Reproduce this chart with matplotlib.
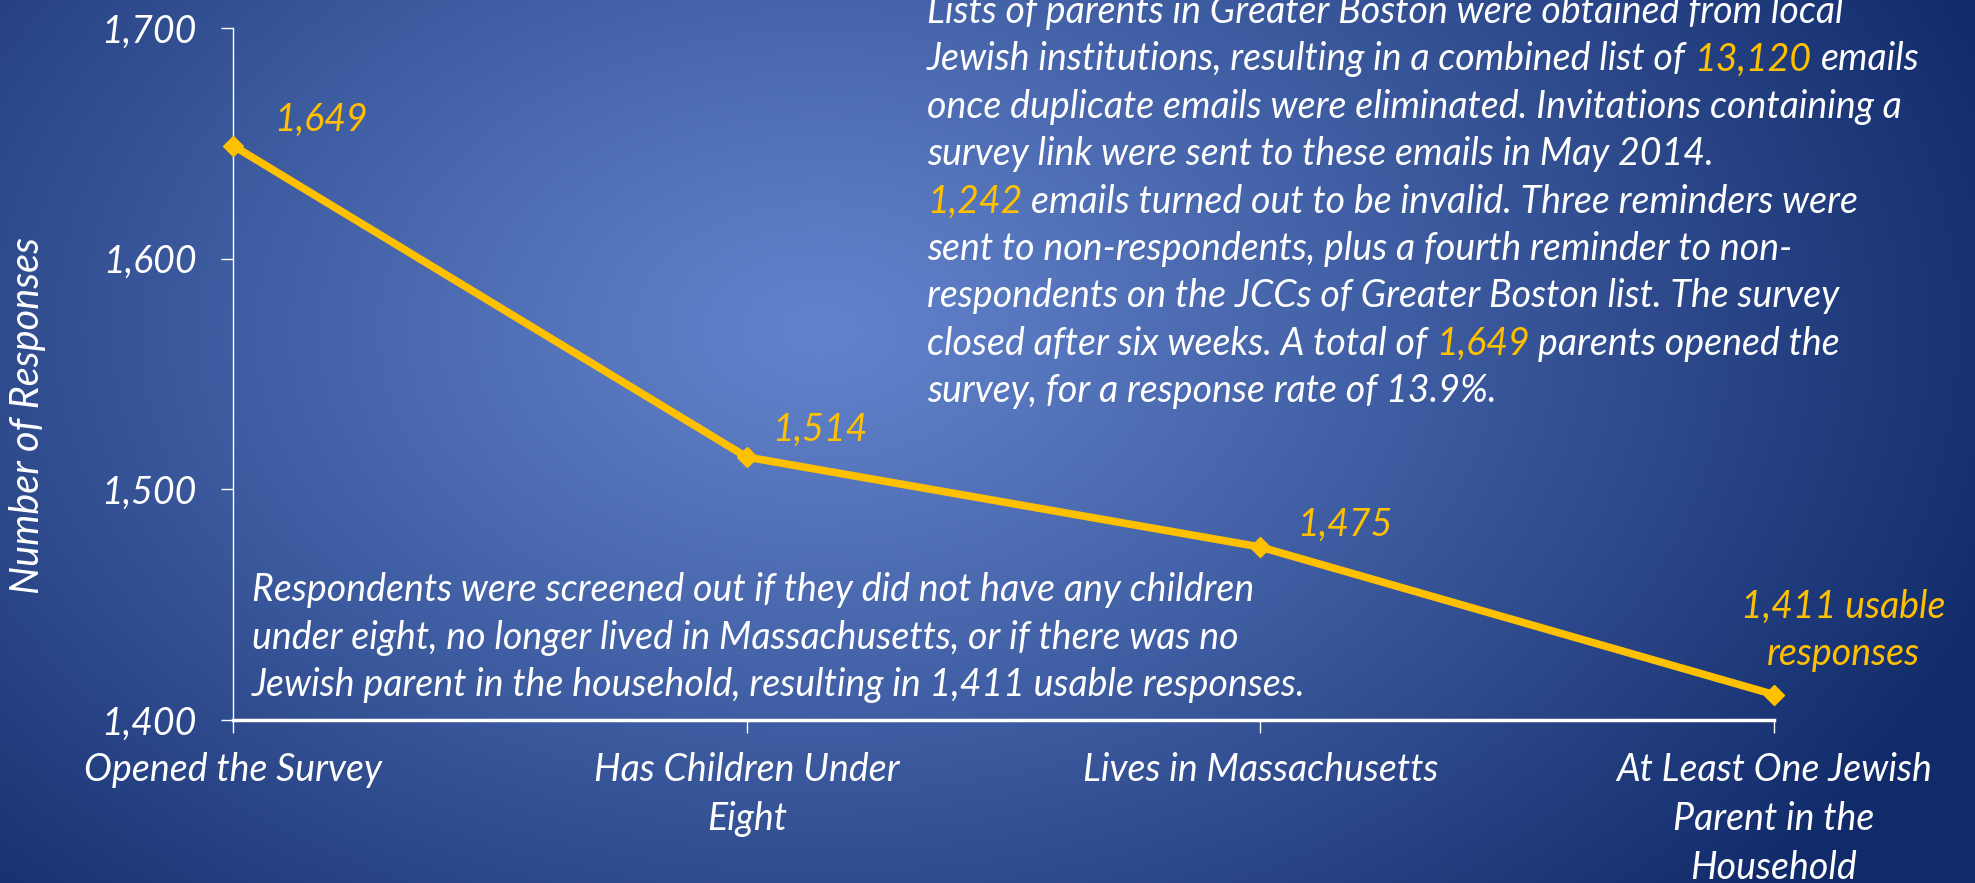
import numpy as np
import matplotlib.pyplot as plt
from matplotlib.colors import to_rgb

# chart data
stages = ["Opened the Survey", "Has Children Under\nEight",
          "Lives in Massachusetts", "At Least One Jewish\nParent in the\nHousehold"]
responses = [1649, 1514, 1475, 1411]
point_labels = ["1,649", "1,514", "1,475", "1,411 usable\nresponses"]
y_ticks = [1400, 1500, 1600, 1700]
y_ticklabels = ["1,400", "1,500", "1,600", "1,700"]

GOLD = "#FFC000"
WHITE = "#FFFFFF"

# annotation text, split into coloured runs
method_lines = [
    [("Lists of parents in Greater Boston were obtained from local", WHITE)],
    [("Jewish institutions, resulting in a combined list of ", WHITE), ("13,120", GOLD), (" emails", WHITE)],
    [("once duplicate emails were eliminated. Invitations containing a", WHITE)],
    [("survey link were sent to these emails in May 2014.", WHITE)],
    [("1,242", GOLD), (" emails turned out to be invalid. Three reminders were", WHITE)],
    [("sent to non-respondents, plus a fourth reminder to non-", WHITE)],
    [("respondents on the JCCs of Greater Boston list. The survey", WHITE)],
    [("closed after six weeks. A total of ", WHITE), ("1,649", GOLD), (" parents opened the", WHITE)],
    [("survey, for a response rate of 13.9%.", WHITE)],
]
screening_lines = [
    "Respondents were screened out if they did not have any children",
    "under eight, no longer lived in Massachusetts, or if there was no",
    "Jewish parent in the household, resulting in 1,411 usable responses.",
]

W, H = 1975, 883
FS = 27

plt.rcParams['font.family'] = ['Lato', 'DejaVu Sans']
plt.rcParams['font.style'] = 'italic'

fig = plt.figure(figsize=(W / 100, H / 100), dpi=100)

# radial gradient background
bg = fig.add_axes([0, 0, 1, 1], zorder=-10)
yy, xx = np.mgrid[0:H, 0:W]
t = np.sqrt(((xx - 820) / 1250.0) ** 2 + ((yy - 330) / 850.0) ** 2)
t = np.clip(t, 0, 1) ** 1.1
c_in = np.array(to_rgb("#6283cc"))
c_out = np.array(to_rgb("#112b6a"))
img = c_in[None, None, :] * (1 - t[..., None]) + c_out[None, None, :] * t[..., None]
bg.imshow(img, aspect='auto', extent=[0, 1, 0, 1])
bg.axis('off')

ax = fig.add_axes([233 / W, 1 - 720 / H, (1774 - 233) / W, (720 - 28) / H])
ax.patch.set_alpha(0)
x = np.arange(len(stages))
ax.plot(x, responses, color=GOLD, lw=5.5, marker='D', ms=10, clip_on=False, zorder=5)
ax.set_xlim(0, len(stages) - 1)
ax.set_ylim(1400, 1700)
ax.set_yticks(y_ticks)
ax.set_yticklabels(y_ticklabels)
ax.set_xticks(x)
ax.set_xticklabels(stages, linespacing=1.45)
ax.tick_params(axis='y', colors=WHITE, labelsize=FS, length=9, width=1, pad=17)
ax.tick_params(axis='x', colors=WHITE, labelsize=FS, length=9, width=1, pad=14)
for side in ['top', 'right']:
    ax.spines[side].set_visible(False)
ax.spines['left'].set_color(WHITE)
ax.spines['left'].set_linewidth(1)
ax.spines['bottom'].set_color(WHITE)
ax.spines['bottom'].set_linewidth(2.5)

# data labels, offsets in pixels from the point
offsets = [(88, 26), (73, 27), (85, 22), (69, 64)]
for xi, yi, lab, off in zip(x, responses, point_labels, offsets):
    ax.annotate(lab, (xi, yi), xytext=off, textcoords='offset pixels',
                ha='center', va='center', color=GOLD, fontsize=FS,
                linespacing=1.4, annotation_clip=False)

fig.text(28 / W, 1 - 416 / H, "Number of Responses", rotation=90, color=WHITE,
         fontsize=28.5, ha='center', va='center')

renderer = fig.canvas.get_renderer()


def text_width(s):
    tx = fig.text(0, 0, s, fontsize=FS)
    w = tx.get_window_extent(renderer).width
    tx.remove()
    return w


space_w = text_width("a a") - text_width("aa")


def rich_line(x_px, y_px, parts):
    for s, col in parts:
        core = s.strip(" ")
        x_px += space_w * (len(s) - len(s.lstrip(" ")))
        fig.text(x_px / W, 1 - y_px / H, core, color=col, fontsize=FS,
                 ha='left', va='center')
        x_px += text_width(core)
        x_px += space_w * (len(s) - len(s.rstrip(" ")))


for i, parts in enumerate(method_lines):
    rich_line(927, 12 + 47.4 * i, parts)

for i, line in enumerate(screening_lines):
    fig.text(252 / W, 1 - (590 + 47.5 * i) / H, line, color=WHITE, fontsize=FS,
             ha='left', va='center')

fig.savefig("out.png", dpi=100)
